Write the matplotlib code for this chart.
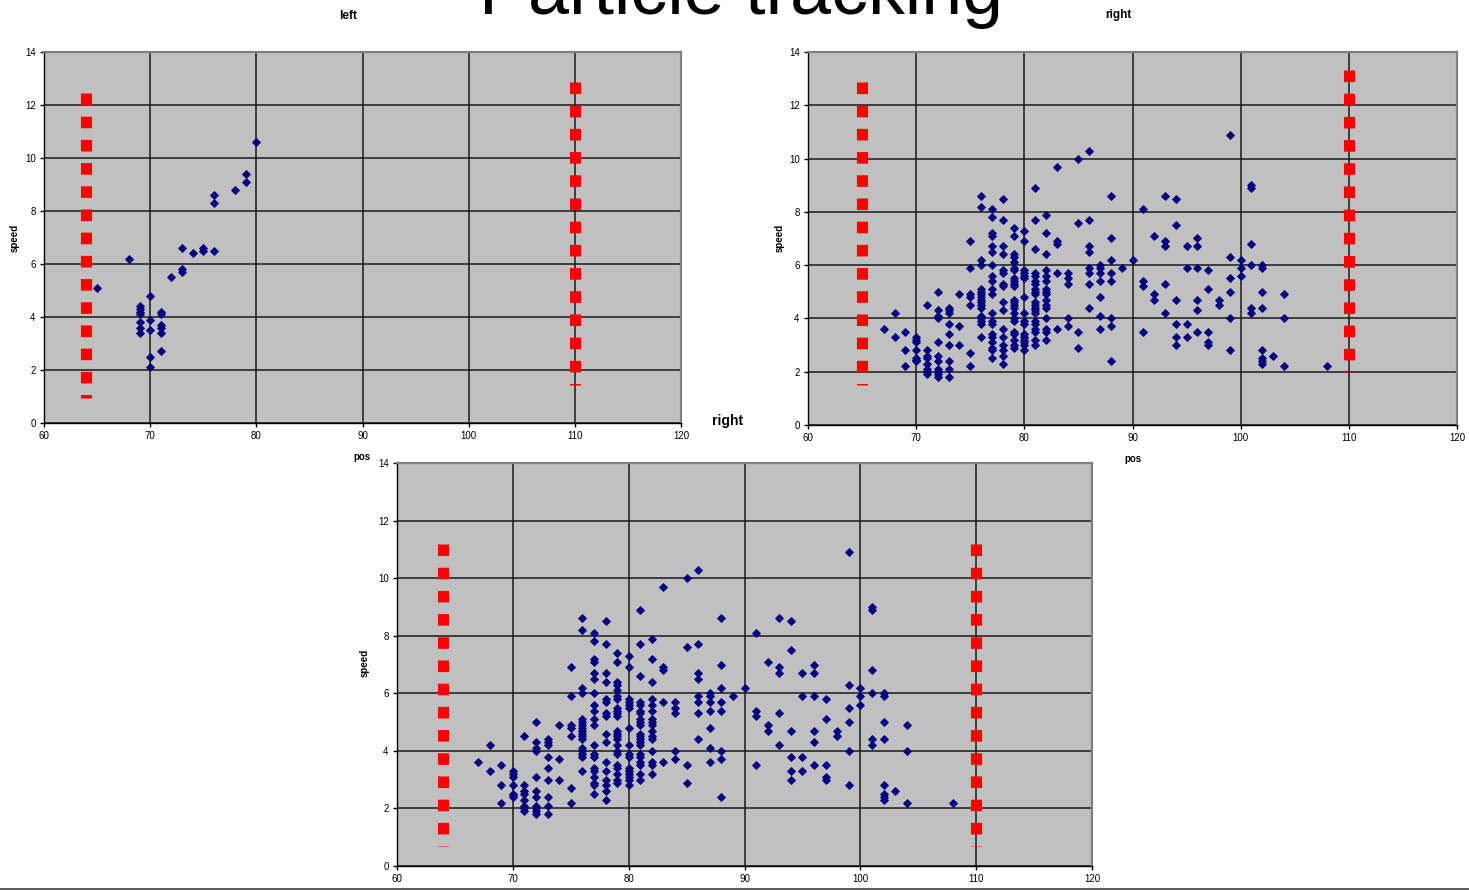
import matplotlib
matplotlib.use("Agg")
import matplotlib.pyplot as plt
from matplotlib.lines import Line2D

plt.rcParams['font.family'] = ['Liberation Sans', 'DejaVu Sans']
plt.rcParams['lines.scale_dashes'] = False

# ---------------- data ----------------
title = "Particle tracking"
x_ticks = [60, 70, 80, 90, 100, 110, 120]
y_ticks = [0, 2, 4, 6, 8, 10, 12, 14]

left_pos = [65, 68,
            69, 69, 69, 69, 69, 69, 69,
            70, 70, 70, 70, 70,
            71, 71, 71, 71, 71, 71,
            72, 73, 73, 73, 74, 75, 75, 76, 76, 76, 78, 79, 79, 80]
left_speed = [5.1, 6.2,
              4.4, 4.3, 4.2, 4.1, 3.8, 3.6, 3.4,
              4.8, 3.9, 3.5, 2.5, 2.1,
              4.2, 4.1, 3.7, 3.6, 3.4, 2.7,
              5.5, 6.6, 5.8, 5.7, 6.4, 6.6, 6.5, 8.6, 8.3, 6.5, 8.8, 9.4, 9.1, 10.6]

right_pos = ([67] + [68] * 2 + [69] * 3 + [70] * 7 + [71] * 8 + [72] * 11 + [73] * 9 +
             [74] * 3 + [75] * 7 + [76] * 17 + [77] * 20 + [78] * 16 + [79] * 23 +
             [80] * 16 + [81] * 21 + [82] * 16 + [83] * 5 + [84] * 5 + [85] * 4 +
             [86] * 8 + [87] * 7 + [88] * 8 + [89] + [90] + [91] * 4 + [92] * 3 +
             [93] * 5 + [94] * 6 + [95] * 4 + [96] * 6 + [97] * 5 + [98] * 2 +
             [99] * 6 + [100] * 3 + [101] * 6 + [102] * 8 + [103] + [104] * 3 + [108])
right_speed = [
    3.6,
    4.2, 3.3,
    3.5, 2.8, 2.2,
    3.3, 3.2, 3.1, 2.8, 2.5, 2.45, 2.4,
    4.5, 2.8, 2.6, 2.5, 2.3, 2.1, 2.0, 1.9,
    5.0, 4.3, 4.1, 4.0, 3.1, 2.6, 2.4, 2.1, 2.0, 1.9, 1.8,
    4.4, 4.3, 4.2, 3.8, 3.4, 3.0, 2.4, 2.1, 1.8,
    4.9, 3.7, 3.0,
    6.9, 5.9, 4.9, 4.8, 4.5, 2.7, 2.2,
    8.6, 8.2, 6.2, 6.0, 5.1, 5.0, 4.9, 4.8, 4.7, 4.6, 4.5, 4.4, 4.1, 4.0, 3.9, 3.8, 3.3,
    8.1, 7.8, 7.2, 7.1, 6.7, 6.5, 6.0, 5.6, 5.4, 5.1, 4.9, 4.2, 3.9, 3.8, 3.4, 3.3, 3.1, 2.9, 2.8, 2.5,
    8.5, 7.7, 6.7, 6.4, 5.8, 5.7, 5.3, 5.2, 4.6, 4.3, 3.6, 3.3, 3.0, 2.8, 2.6, 2.3,
    7.4, 7.1, 6.4, 6.3, 6.1, 5.9, 5.8, 5.5, 5.4, 5.3, 5.2, 4.7, 4.6, 4.5, 4.4, 4.2, 4.0, 3.9, 3.5, 3.4, 3.2, 3.0, 2.9,
    7.3, 6.9, 5.8, 5.7, 5.6, 5.5, 4.8, 4.2, 3.9, 3.8, 3.4, 3.3, 3.2, 3.1, 3.0, 2.8,
    8.9, 7.7, 6.6, 5.7, 5.6, 5.4, 5.3, 5.1, 5.0, 4.9, 4.6, 4.5, 4.4, 4.3, 4.2, 3.9, 3.8, 3.6, 3.5, 3.2, 3.0,
    7.9, 7.2, 6.4, 5.8, 5.6, 5.4, 5.1, 5.0, 4.9, 4.7, 4.5, 4.4, 4.0, 3.6, 3.5, 3.2,
    9.7, 6.9, 6.8, 5.7, 3.6,
    5.7, 5.5, 5.3, 4.0, 3.7,
    10.0, 7.6, 3.5, 2.9,
    10.3, 7.7, 6.7, 6.5, 5.9, 5.7, 5.3, 4.4,
    6.0, 5.9, 5.7, 5.4, 4.8, 4.1, 3.6,
    8.6, 7.0, 6.2, 5.7, 5.4, 4.0, 3.7, 2.4,
    5.9,
    6.2,
    8.1, 5.4, 5.2, 3.5,
    7.1, 4.9, 4.7,
    8.6, 6.9, 6.7, 5.3, 4.2,
    8.5, 7.5, 4.7, 3.8, 3.3, 3.0,
    6.7, 5.9, 3.8, 3.3,
    7.0, 6.7, 5.9, 4.7, 4.3, 3.5,
    5.8, 5.1, 3.5, 3.1, 3.0,
    4.7, 4.5,
    10.9, 6.3, 5.5, 5.0, 4.0, 2.8,
    6.2, 5.9, 5.6,
    9.0, 8.9, 6.8, 6.0, 4.4, 4.2,
    6.0, 5.9, 5.0, 4.4, 2.8, 2.5, 2.4, 2.3,
    2.6,
    4.9, 4.0, 2.2,
    2.2,
]

# boundary (red dashed) lines: x, top, bottom
left_bound_x = [64, 110]
left_bound_top = [12.47, 12.88]
left_bound_bottom = [0.95, 1.45]

right_bound_x = [65, 110]
right_bound_top = [12.87, 13.34]
right_bound_bottom = [1.49, 1.99]

bottom_bound_x = [64, 110]
bottom_bound_top = [11.20, 11.20]
bottom_bound_bottom = [0.70, 0.70]

# ---------------- figure ----------------
W, H = 1469, 890
fig = plt.figure(figsize=(W / 100, H / 100), dpi=100)
fig.patch.set_facecolor('white')


def px_axes(x0, x1, ytop, ybot):
    return fig.add_axes([x0 / W, (H - ybot) / H, (x1 - x0) / W, (ybot - ytop) / H])


def style(ax, pos, speed, bx, btop, bbot):
    ax.set_facecolor('#C0C0C0')
    ax.set_xlim(60, 120)
    ax.set_ylim(0, 14)
    ax.set_xticks(x_ticks)
    ax.set_yticks(y_ticks)
    ax.grid(True, color='#1a1a1a', lw=1.1)
    ax.set_axisbelow(True)
    for s in ['top', 'right']:
        ax.spines[s].set_color('#808080')
        ax.spines[s].set_linewidth(1.6)
    for s in ['left', 'bottom']:
        ax.spines[s].set_color('black')
        ax.spines[s].set_linewidth(1.0)
    ax.tick_params(direction='out', length=3, width=1, labelsize=7, pad=3)
    for x, t, b in zip(bx, btop, bbot):
        ax.plot([x, x], [t, b], color='#FF0000', lw=8.0, dashes=(8.35, 8.35),
                solid_capstyle='butt', dash_capstyle='butt', zorder=3)
    ax.plot(pos, speed, linestyle='none', marker='D', ms=3.8, color='#000080',
            markeredgewidth=0.6, zorder=4)


ax1 = px_axes(44, 681, 52, 423)
style(ax1, left_pos, left_speed, left_bound_x, left_bound_top, left_bound_bottom)
ax2 = px_axes(808, 1457, 52, 425)
style(ax2, right_pos, right_speed, right_bound_x, right_bound_top, right_bound_bottom)
ax3 = px_axes(397, 1092, 463, 866)
style(ax3, right_pos, right_speed, bottom_bound_x, bottom_bound_top, bottom_bound_bottom)


def ftext(x, y, s, **kw):
    fig.text(x / W, 1 - y / H, s, **kw)


ftext(741, 14, title, fontsize=53, ha='center', va='baseline', color='black')
ftext(348, 16, 'left', fontsize=8.5, fontweight='bold', ha='center', va='center')
ftext(1118, 15, 'right', fontsize=8.5, fontweight='bold', ha='center', va='center')
ftext(728, 421, 'right', fontsize=10, fontweight='bold', ha='center', va='center')

ftext(15, 238, 'speed', fontsize=7, fontweight='bold', rotation=90, ha='center', va='center')
ftext(780, 238, 'speed', fontsize=7, fontweight='bold', rotation=90, ha='center', va='center')
ftext(365, 663, 'speed', fontsize=7, fontweight='bold', rotation=90, ha='center', va='center')
ftext(362, 457, 'pos', fontsize=7, fontweight='bold', ha='center', va='center')
ftext(1133, 459, 'pos', fontsize=7, fontweight='bold', ha='center', va='center')

# thin frame line at the bottom of the page
fig.add_artist(Line2D([0, 1], [1 - 888.5 / H, 1 - 888.5 / H], transform=fig.transFigure,
                      color='#404040', lw=1.2))

fig.savefig('out.png', dpi=100)
